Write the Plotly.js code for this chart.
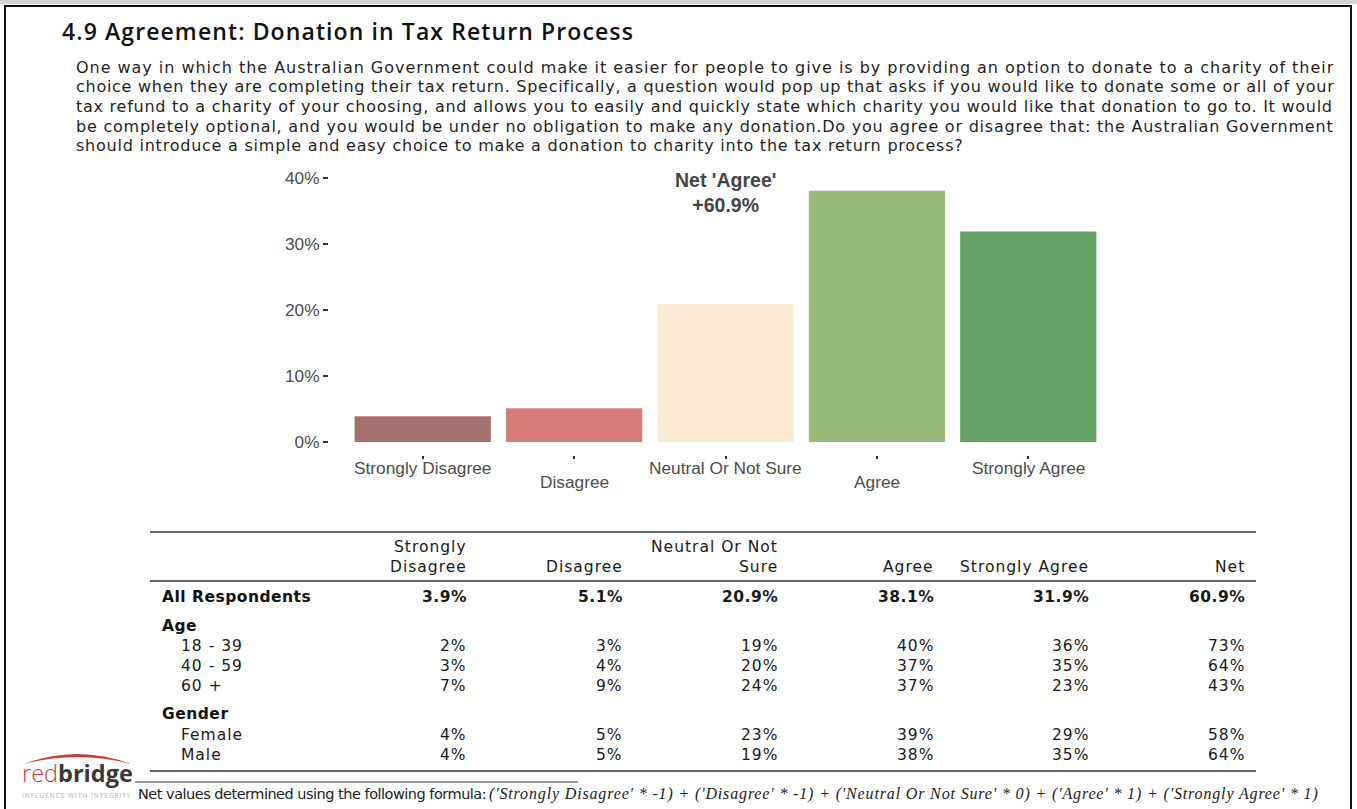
<!DOCTYPE html>
<html>
<head>
<meta charset="utf-8">
<script src="https://cdn.plot.ly/plotly-3.0.1.min.js"></script>
<style>
  html, body { margin: 0; padding: 0; background: #ffffff; }
  #chart { width: 1357px; height: 809px; }
</style>
</head>
<body>
<div id="chart"></div>
<script>
// ---------------- DATA ----------------
const categories = ['Strongly Disagree', 'Disagree', 'Neutral Or Not Sure', 'Agree', 'Strongly Agree'];
const allRespondents = [3.9, 5.1, 20.9, 38.1, 31.9];
const netAgree = 60.9;
const barColors = ['#a5716c', '#d67c79', '#f9ead2', '#99bb79', '#67a367'];

const headerTop = ['Strongly', '', 'Neutral Or Not', '', '', ''];
const headerBottom = ['Disagree', 'Disagree', 'Sure', 'Agree', 'Strongly Agree', 'Net'];
const ageLabels = ['18 - 39', '40 - 59', '60 +'];
const ageValues = [
  [2, 3, 19, 40, 36, 73],
  [3, 4, 20, 37, 35, 64],
  [7, 9, 24, 37, 23, 43]
];
const genderLabels = ['Female', 'Male'];
const genderValues = [
  [4, 5, 23, 39, 29, 58],
  [4, 5, 19, 38, 35, 64]
];

const titleText = '4.9 Agreement: Donation in Tax Return Process';
const questionLines = [
  'One way in which the Australian Government could make it easier for people to give is by providing an option to donate to a charity of their',
  'choice when they are completing their tax return. Specifically, a question would pop up that asks if you would like to donate some or all of your',
  'tax refund to a charity of your choosing, and allows you to easily and quickly state which charity you would like that donation to go to. It would',
  'be completely optional, and you would be under no obligation to make any donation.Do you agree or disagree that: the Australian Government',
  'should introduce a simple and easy choice to make a donation to charity into the tax return process?'
];
const footnoteText = 'Net values determined using the following formula:';
const formulaText = "('Strongly Disagree' * -1) + ('Disagree' * -1) + ('Neutral Or Not Sure' * 0) + ('Agree' * 1) + ('Strongly Agree' * 1)";
const yTicks = [0, 10, 20, 30, 40];

// ---------------- LAYOUT HELPERS ----------------
const W = 1357, H = 809, ML = 329, MR = 253, MT = 165, MB = 354;
const PW = W - ML - MR, PH = H - MT - MB;
const px = x => (x - ML) / PW;
const py = y => (H - MB - y) / PH;

const BODY = 'DejaVu Sans, Verdana, sans-serif';
const TITLEF = 'Open Sans, Lato, sans-serif';
const SERIF = 'Liberation Serif, DejaVu Serif, serif';
const CHARTF = 'Liberation Sans, Arial, sans-serif';
const spaced = (t, s) => '<span style="letter-spacing:' + s.toFixed(2) + 'px">' + t + '</span>';

// letter-spacing needed so that a line of text spans a given pixel width
const ctx = document.createElement('canvas').getContext('2d');
function fitSpacing(text, cssFont, width) {
  ctx.font = cssFont;
  const w = ctx.measureText(text).width;
  return Math.max(-0.5, Math.min(3, (width - w) / text.length));
}

const annotations = [];
function txt(text, x, y, opts) {
  annotations.push(Object.assign({
    text: text, xref: 'paper', yref: 'paper', x: px(x), y: py(y),
    showarrow: false, xanchor: 'left', yanchor: 'middle', borderpad: 0,
    font: { family: BODY, size: 15.5, color: '#1a1a1a' }
  }, opts || {}));
}

// Title & question
txt(spaced(titleText, 1.1), 61, 31, { font: { family: TITLEF, size: 23, color: '#111', weight: 600 } });
const QFS = 16;
const lineEnds = [1333, 1333, 1332, 1333, 963];
questionLines.forEach((line, i) => {
  const ls = fitSpacing(line, QFS + "px 'DejaVu Sans'", lineEnds[i] - 75);
  txt(spaced(line, ls), 75, 67 + i * 19.7, { font: { family: BODY, size: QFS, color: '#1f1f1f' } });
});

// Chart category labels (dodged in two rows)
categories.forEach((c, i) => {
  annotations.push({
    text: c, xref: 'x', yref: 'paper', x: c, y: py(i % 2 === 0 ? 468 : 482),
    showarrow: false, xanchor: 'center', yanchor: 'middle',
    font: { family: CHARTF, size: 17.3, color: '#4d4d4d' }
  });
});

// Net annotation
annotations.push({
  text: "Net 'Agree'<br>+" + netAgree.toFixed(1) + '%',
  xref: 'x', yref: 'paper', x: categories[2], y: py(192),
  showarrow: false, xanchor: 'center', yanchor: 'middle',
  font: { family: CHARTF, size: 19.5, color: '#444444', weight: 700 }
});

// Table
const TFS = 15.5, TLS = 1.0, TLSB = 0.5;
const colRight = [467, 623, 778, 934, 1089, 1245];
const fmt = v => v + '%';
const cell = (t, x, y, bold) => txt(spaced(t, bold ? TLSB : TLS), x + (bold ? TLSB : TLS), y, { xanchor: 'right',
  font: { family: BODY, size: TFS, color: '#1a1a1a', weight: bold ? 700 : 400 } });
headerTop.forEach((h, j) => { if (h) cell(h, colRight[j], 547); });
headerBottom.forEach((h, j) => cell(h, colRight[j], 567));
txt(spaced('All Respondents', TLSB), 161, 597, { font: { family: BODY, size: TFS, color: '#111', weight: 700 } });
allRespondents.concat([netAgree]).forEach((v, j) => cell(v.toFixed(1) + '%', colRight[j], 597, true));
txt(spaced('Age', TLSB), 161, 626, { font: { family: BODY, size: TFS, color: '#111', weight: 700 } });
ageLabels.forEach((lab, i) => {
  const y = 646 + i * 20;
  txt(spaced(lab, TLS), 180, y, { font: { family: BODY, size: TFS, color: '#1a1a1a' } });
  ageValues[i].forEach((v, j) => cell(fmt(v), colRight[j], y));
});
txt(spaced('Gender', TLSB), 161, 714, { font: { family: BODY, size: TFS, color: '#111', weight: 700 } });
genderLabels.forEach((lab, i) => {
  const y = 735 + i * 20;
  txt(spaced(lab, TLS), 180, y, { font: { family: BODY, size: TFS, color: '#1a1a1a' } });
  genderValues[i].forEach((v, j) => cell(fmt(v), colRight[j], y));
});

// Footnote
const FFS = 14.5;
txt(spaced(footnoteText, fitSpacing(footnoteText, FFS + "px 'DejaVu Sans'", 482 - 137)), 137, 794,
  { font: { family: BODY, size: FFS, color: '#222' } });
const SFS = 16;
txt(spaced(formulaText, fitSpacing(formulaText, "italic " + SFS + "px 'Liberation Serif'", 1318 - 488)), 488, 794,
  { font: { family: SERIF, size: SFS, color: '#222', style: 'italic' } });

// Logo
txt("<span style='color:#cf3a35'>red</span><b>bridge</b>", 21, 772.5,
  { font: { family: TITLEF, size: 23.5, color: '#383838', weight: 300 } });
txt(spaced('INFLUENCE WITH INTEGRITY', 1), 21, 795.5,
  { font: { family: TITLEF, size: 6.5, color: '#b0b0b0' } });

// Shapes
const shapes = [];
function hline(x0, x1, y, color, w) {
  shapes.push({ type: 'line', xref: 'paper', yref: 'paper', x0: px(x0), x1: px(x1), y0: py(y), y1: py(y),
    line: { color: color, width: w } });
}
// page frame
shapes.push({ type: 'rect', xref: 'paper', yref: 'paper', x0: px(0), x1: px(W), y0: py(0), y1: py(4),
  fillcolor: '#d4d4d4', line: { width: 0 } });
shapes.push({ type: 'rect', xref: 'paper', yref: 'paper', x0: px(5), x1: px(1351), y0: py(6), y1: py(830),
  line: { color: '#111', width: 2 }, fillcolor: 'rgba(0,0,0,0)' });
hline(150, 1256, 532, '#333', 1.5);
hline(150, 1256, 581, '#333', 1.5);
hline(150, 1256, 771, '#333', 1.5);
hline(135, 578, 782, '#333', 1.2);
// logo arc
const arc = 'M ' + px(24) + ',' + py(764) + ' Q ' + px(77) + ',' + py(744) + ' ' + px(131) + ',' + py(764) +
            ' Q ' + px(77) + ',' + py(750) + ' ' + px(24) + ',' + py(764) + ' Z';
shapes.push({ type: 'path', xref: 'paper', yref: 'paper', path: arc, fillcolor: '#cf3a35', line: { width: 0 } });

const trace = {
  type: 'bar', x: categories, y: allRespondents,
  marker: { color: barColors, line: { width: 0 } },
  hoverinfo: 'none'
};

const layout = {
  width: W, height: H,
  margin: { l: ML, r: MR, t: MT, b: MB, pad: 0 },
  paper_bgcolor: '#ffffff', plot_bgcolor: '#ffffff',
  showlegend: false, bargap: 0.1,
  xaxis: {
    type: 'category', range: [-0.619, 4.5], showgrid: false, zeroline: false, showline: false,
    ticks: 'outside', ticklen: 3, tickwidth: 2, tickcolor: '#333', showticklabels: false,
    fixedrange: true
  },
  yaxis: {
    range: [-1.97, 42], tickmode: 'array', tickvals: yTicks, ticktext: yTicks.map(v => v + '%'),
    showgrid: false, zeroline: false, showline: false,
    ticks: 'outside', ticklen: 5, tickwidth: 2, tickcolor: '#333',
    tickfont: { family: CHARTF, size: 17.3, color: '#4d4d4d' }, fixedrange: true
  },
  annotations: annotations,
  shapes: shapes
};

Plotly.newPlot('chart', [trace], layout, { displayModeBar: false, staticPlot: true });
</script>
</body>
</html>
